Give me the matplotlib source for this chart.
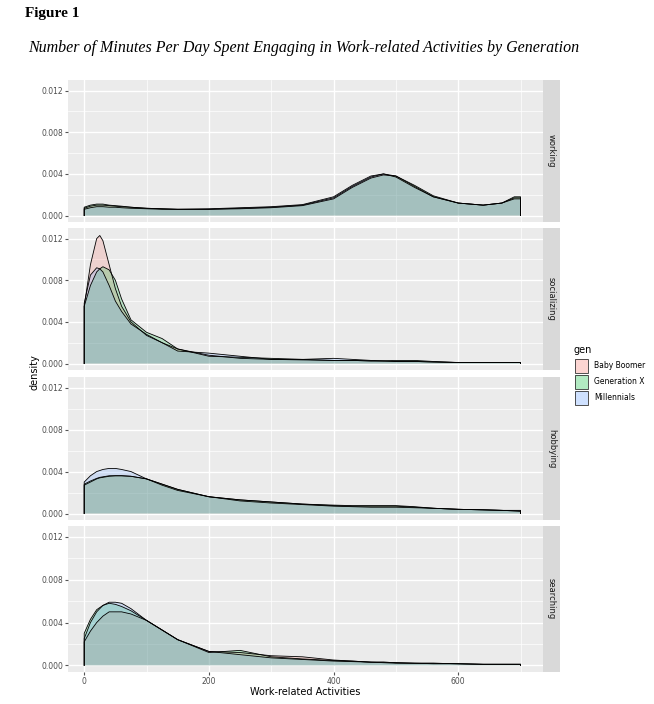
import numpy as np
import matplotlib.pyplot as plt
from matplotlib.patches import Rectangle

x = [0, 10, 20, 25, 30, 40, 50, 60, 75, 100, 125, 150, 200, 250, 300, 350, 400, 430, 460, 480, 500, 530, 560, 600, 640, 670, 690, 700]
facets = ["working", "socializing", "hobbying", "searching"]
gens = ["Baby Boomer", "Generation X", "Millennials"]
colors = ["#F8766D", "#00BA38", "#619CFF"]

# density values x 1e-3
working_bb = [0.7, 0.9, 1.0, 1.0, 1.0, 0.95, 0.9, 0.85, 0.8, 0.7, 0.65, 0.6, 0.6, 0.7, 0.8, 1.0, 1.7, 2.8, 3.7, 4.0, 3.8, 2.8, 1.8, 1.2, 1.0, 1.2, 1.7, 1.7]
working_gx = [0.8, 1.0, 1.1, 1.1, 1.1, 1.0, 0.95, 0.9, 0.8, 0.7, 0.65, 0.6, 0.6, 0.65, 0.75, 0.95, 1.6, 2.7, 3.6, 3.9, 3.8, 2.9, 1.9, 1.2, 1.0, 1.2, 1.8, 1.8]
working_ml = [0.6, 0.75, 0.85, 0.85, 0.85, 0.8, 0.8, 0.75, 0.7, 0.65, 0.6, 0.6, 0.65, 0.75, 0.85, 1.05, 1.8, 2.9, 3.8, 4.0, 3.7, 2.7, 1.8, 1.2, 1.0, 1.2, 1.6, 1.6]
social_bb = [5.5, 9.5, 12.0, 12.3, 11.8, 9.5, 7.2, 5.5, 4.0, 2.7, 2.0, 1.4, 0.8, 0.5, 0.4, 0.35, 0.3, 0.3, 0.25, 0.25, 0.2, 0.2, 0.15, 0.1, 0.1, 0.1, 0.1, 0.1]
social_gx = [5.5, 7.5, 8.8, 9.1, 9.3, 9.0, 8.0, 6.2, 4.2, 3.0, 2.4, 1.4, 0.7, 0.6, 0.5, 0.4, 0.3, 0.3, 0.25, 0.25, 0.3, 0.3, 0.2, 0.1, 0.1, 0.1, 0.1, 0.1]
social_ml = [5.8, 8.5, 9.2, 9.1, 8.8, 7.5, 6.0, 5.0, 3.8, 2.8, 2.0, 1.2, 1.0, 0.7, 0.4, 0.4, 0.5, 0.4, 0.3, 0.25, 0.2, 0.2, 0.15, 0.1, 0.1, 0.1, 0.1, 0.1]
hobby_bb = [2.7, 3.0, 3.3, 3.4, 3.45, 3.55, 3.6, 3.6, 3.55, 3.3, 2.8, 2.3, 1.6, 1.3, 1.1, 0.9, 0.75, 0.7, 0.7, 0.7, 0.7, 0.6, 0.5, 0.4, 0.35, 0.3, 0.25, 0.2]
hobby_gx = [2.8, 3.1, 3.35, 3.45, 3.5, 3.6, 3.6, 3.6, 3.55, 3.3, 2.8, 2.3, 1.6, 1.3, 1.1, 0.9, 0.8, 0.75, 0.75, 0.75, 0.75, 0.65, 0.5, 0.4, 0.35, 0.3, 0.25, 0.25]
hobby_ml = [3.0, 3.6, 4.0, 4.1, 4.2, 4.3, 4.3, 4.2, 4.0, 3.3, 2.7, 2.2, 1.6, 1.2, 1.0, 0.85, 0.7, 0.65, 0.6, 0.6, 0.6, 0.55, 0.5, 0.4, 0.35, 0.3, 0.3, 0.3]
search_bb = [2.2, 3.2, 4.0, 4.3, 4.6, 5.0, 5.0, 5.0, 4.8, 4.2, 3.3, 2.4, 1.3, 1.2, 0.9, 0.8, 0.5, 0.4, 0.3, 0.3, 0.25, 0.2, 0.2, 0.15, 0.1, 0.1, 0.1, 0.1]
search_gx = [3.0, 4.3, 5.2, 5.4, 5.6, 5.8, 5.7, 5.5, 5.1, 4.2, 3.3, 2.4, 1.2, 1.4, 0.8, 0.6, 0.45, 0.4, 0.3, 0.3, 0.25, 0.2, 0.2, 0.15, 0.1, 0.1, 0.1, 0.1]
search_ml = [2.5, 4.0, 5.0, 5.3, 5.6, 5.9, 5.9, 5.8, 5.3, 4.2, 3.3, 2.4, 1.3, 1.0, 0.7, 0.55, 0.4, 0.35, 0.3, 0.25, 0.2, 0.2, 0.15, 0.15, 0.1, 0.1, 0.1, 0.1]

series = {
    "working": [working_bb, working_gx, working_ml],
    "socializing": [social_bb, social_gx, social_ml],
    "hobbying": [hobby_bb, hobby_gx, hobby_ml],
    "searching": [search_bb, search_gx, search_ml],
}

W, H = 654, 704
fig = plt.figure(figsize=(W / 100, H / 100), dpi=100)
fig.patch.set_facecolor("white")

fig.text(25 / W, 1 - 14 / H, "Figure 1", family="Liberation Serif", weight="bold", fontsize=11, va="center")
fig.text(28 / W, 1 - 48 / H, "Number of Minutes Per Day Spent Engaging in Work-related Activities by Generation",
         family="Liberation Serif", style="italic", fontsize=11.5, va="center")

rows = [(80, 222), (228, 370), (377, 520), (526, 672)]
left, right, strip_w = 68, 543, 17
yt = [0, 0.004, 0.008, 0.012]
for i, f in enumerate(facets):
    top, bot = rows[i]
    ax = fig.add_axes([left / W, 1 - bot / H, (right - left) / W, (bot - top) / H])
    ax.set_facecolor("#EBEBEB")
    xa = np.array(x)
    for vals, c in zip(series[f], colors):
        v = np.array(vals) * 1e-3
        ax.fill_between(xa, 0, v, facecolor=c, alpha=0.22, edgecolor="none")
        ax.plot(np.r_[xa[0], xa, xa[-1]], np.r_[0, v, 0], color="black", lw=0.6)
    ax.set_xlim(-26, 736)
    ax.set_ylim(-0.00062, 0.01302)
    ax.set_yticks(yt)
    ax.set_yticklabels(["0.000", "0.004", "0.008", "0.012"])
    ax.set_xticks([0, 200, 400, 600])
    ax.set_xticks([100, 300, 500, 700], minor=True)
    ax.set_yticks([0.002, 0.006, 0.010], minor=True)
    ax.grid(True, which="major", color="white", lw=1.0)
    ax.grid(True, which="minor", color="white", lw=0.5)
    ax.set_axisbelow(True)
    for s in ax.spines.values():
        s.set_visible(False)
    ax.tick_params(which="major", length=2, color="#555555", labelsize=5.5, labelcolor="#4D4D4D", pad=1.5)
    ax.tick_params(which="minor", length=0)
    if i < 3:
        ax.tick_params(axis="x", labelbottom=False, length=0)
    # strip
    sax = fig.add_axes([right / W, 1 - bot / H, strip_w / W, (bot - top) / H])
    sax.set_facecolor("#D9D9D9")
    sax.set_xticks([])
    sax.set_yticks([])
    for s in sax.spines.values():
        s.set_visible(False)
    sax.text(0.5, 0.5, f, rotation=-90, ha="center", va="center", fontsize=6, color="#1A1A1A", transform=sax.transAxes)

fig.text(35 / W, 1 - 372 / H, "density", rotation=90, ha="center", va="center", fontsize=7)
fig.text(305 / W, 1 - 692 / H, "Work-related Activities", ha="center", va="center", fontsize=7)

# legend
fig.text(573 / W, 1 - 350 / H, "gen", fontsize=7, va="center")
for k, (g, c) in enumerate(zip(gens, colors)):
    yc = 366 + k * 16
    fig.patches.append(Rectangle(((575) / W, 1 - (yc + 7) / H), 13 / W, 14 / H, transform=fig.transFigure,
                                 facecolor=c, alpha=0.3, edgecolor="none"))
    fig.patches.append(Rectangle(((575) / W, 1 - (yc + 7) / H), 13 / W, 14 / H, transform=fig.transFigure,
                                 facecolor="none", edgecolor="#333333", lw=0.6))
    fig.text(594 / W, 1 - yc / H, g, fontsize=5.5, va="center")

fig.savefig("out.png", dpi=100)
